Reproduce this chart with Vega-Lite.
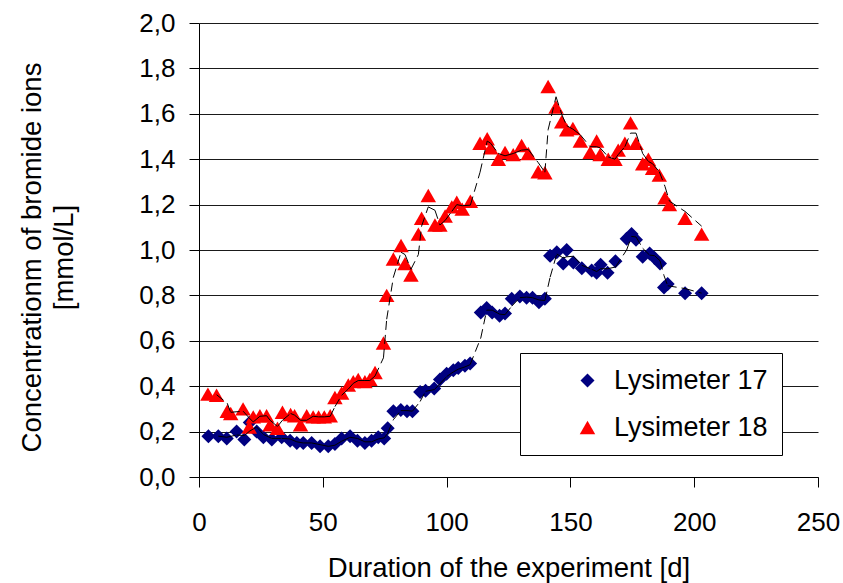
{
  "$schema": "https://vega.github.io/schema/vega-lite/v6.json",
  "width": 619,
  "height": 454,
  "autosize": {"type": "none"},
  "padding": {"left": 199, "top": 23, "right": 25, "bottom": 106},
  "background": "white",
  "config": {
    "view": {"stroke": null},
    "font": "Liberation Sans",
    "legend": {
      "orient": "none",
      "legendX": 321,
      "legendY": 330,
      "padding": 14,
      "strokeColor": "#000000",
      "fillColor": "#ffffff",
      "labelFont": "Liberation Sans",
      "labelFontSize": 27,
      "labelColor": "#000000",
      "symbolSize": 130,
      "symbolOffset": 40,
      "labelOffset": 13,
      "rowPadding": 19,
      "symbolStrokeWidth": 0
    }
  },
  "datasets": {
    "bromide": [
      {"series": "Lysimeter 17", "day": 3.8, "conc": 0.18},
      {"series": "Lysimeter 17", "day": 7.8, "conc": 0.18},
      {"series": "Lysimeter 17", "day": 11.2, "conc": 0.17},
      {"series": "Lysimeter 17", "day": 15.2, "conc": 0.2},
      {"series": "Lysimeter 17", "day": 18.3, "conc": 0.165},
      {"series": "Lysimeter 17", "day": 20.5, "conc": 0.24},
      {"series": "Lysimeter 17", "day": 23.3, "conc": 0.2},
      {"series": "Lysimeter 17", "day": 26, "conc": 0.175},
      {"series": "Lysimeter 17", "day": 29.4, "conc": 0.165},
      {"series": "Lysimeter 17", "day": 33.4, "conc": 0.175},
      {"series": "Lysimeter 17", "day": 36.8, "conc": 0.16},
      {"series": "Lysimeter 17", "day": 39.5, "conc": 0.15},
      {"series": "Lysimeter 17", "day": 42.1, "conc": 0.15},
      {"series": "Lysimeter 17", "day": 45.5, "conc": 0.15},
      {"series": "Lysimeter 17", "day": 48.9, "conc": 0.135},
      {"series": "Lysimeter 17", "day": 52.2, "conc": 0.135},
      {"series": "Lysimeter 17", "day": 54.9, "conc": 0.145},
      {"series": "Lysimeter 17", "day": 57.6, "conc": 0.17},
      {"series": "Lysimeter 17", "day": 61, "conc": 0.18},
      {"series": "Lysimeter 17", "day": 64, "conc": 0.16},
      {"series": "Lysimeter 17", "day": 67, "conc": 0.15},
      {"series": "Lysimeter 17", "day": 69.7, "conc": 0.16},
      {"series": "Lysimeter 17", "day": 72.4, "conc": 0.175},
      {"series": "Lysimeter 17", "day": 74.8, "conc": 0.17},
      {"series": "Lysimeter 17", "day": 76.2, "conc": 0.215},
      {"series": "Lysimeter 17", "day": 78.5, "conc": 0.29},
      {"series": "Lysimeter 17", "day": 81.5, "conc": 0.295},
      {"series": "Lysimeter 17", "day": 84, "conc": 0.29},
      {"series": "Lysimeter 17", "day": 86.2, "conc": 0.29},
      {"series": "Lysimeter 17", "day": 89.3, "conc": 0.375},
      {"series": "Lysimeter 17", "day": 91.5, "conc": 0.38},
      {"series": "Lysimeter 17", "day": 95, "conc": 0.39},
      {"series": "Lysimeter 17", "day": 97.3, "conc": 0.43},
      {"series": "Lysimeter 17", "day": 100, "conc": 0.455},
      {"series": "Lysimeter 17", "day": 102.7, "conc": 0.47},
      {"series": "Lysimeter 17", "day": 104.7, "conc": 0.48},
      {"series": "Lysimeter 17", "day": 107.4, "conc": 0.49},
      {"series": "Lysimeter 17", "day": 109.5, "conc": 0.5},
      {"series": "Lysimeter 17", "day": 113.8, "conc": 0.725},
      {"series": "Lysimeter 17", "day": 116.2, "conc": 0.745},
      {"series": "Lysimeter 17", "day": 118.4, "conc": 0.725},
      {"series": "Lysimeter 17", "day": 121.4, "conc": 0.71},
      {"series": "Lysimeter 17", "day": 123.6, "conc": 0.72},
      {"series": "Lysimeter 17", "day": 126.3, "conc": 0.785},
      {"series": "Lysimeter 17", "day": 129.6, "conc": 0.795},
      {"series": "Lysimeter 17", "day": 132.3, "conc": 0.79},
      {"series": "Lysimeter 17", "day": 134.7, "conc": 0.79},
      {"series": "Lysimeter 17", "day": 137.3, "conc": 0.77},
      {"series": "Lysimeter 17", "day": 139.7, "conc": 0.785},
      {"series": "Lysimeter 17", "day": 141.8, "conc": 0.975},
      {"series": "Lysimeter 17", "day": 144.5, "conc": 0.99},
      {"series": "Lysimeter 17", "day": 147.1, "conc": 0.94},
      {"series": "Lysimeter 17", "day": 148.5, "conc": 1.0},
      {"series": "Lysimeter 17", "day": 151.2, "conc": 0.945},
      {"series": "Lysimeter 17", "day": 154.6, "conc": 0.92},
      {"series": "Lysimeter 17", "day": 158.6, "conc": 0.91},
      {"series": "Lysimeter 17", "day": 160.6, "conc": 0.9},
      {"series": "Lysimeter 17", "day": 162.2, "conc": 0.935},
      {"series": "Lysimeter 17", "day": 165, "conc": 0.9},
      {"series": "Lysimeter 17", "day": 168.2, "conc": 0.95},
      {"series": "Lysimeter 17", "day": 172.7, "conc": 1.05},
      {"series": "Lysimeter 17", "day": 174.7, "conc": 1.07},
      {"series": "Lysimeter 17", "day": 176.5, "conc": 1.045},
      {"series": "Lysimeter 17", "day": 179.2, "conc": 0.97},
      {"series": "Lysimeter 17", "day": 182, "conc": 0.985},
      {"series": "Lysimeter 17", "day": 184, "conc": 0.965},
      {"series": "Lysimeter 17", "day": 186.2, "conc": 0.94},
      {"series": "Lysimeter 17", "day": 187.8, "conc": 0.835},
      {"series": "Lysimeter 17", "day": 189.3, "conc": 0.85},
      {"series": "Lysimeter 17", "day": 196.3, "conc": 0.81},
      {"series": "Lysimeter 17", "day": 203, "conc": 0.81},
      {"series": "Lysimeter 18", "day": 3.6, "conc": 0.365},
      {"series": "Lysimeter 18", "day": 7.1, "conc": 0.36},
      {"series": "Lysimeter 18", "day": 11.4, "conc": 0.29},
      {"series": "Lysimeter 18", "day": 12.8, "conc": 0.28},
      {"series": "Lysimeter 18", "day": 17.8, "conc": 0.3},
      {"series": "Lysimeter 18", "day": 20.3, "conc": 0.22},
      {"series": "Lysimeter 18", "day": 21.9, "conc": 0.265},
      {"series": "Lysimeter 18", "day": 24.6, "conc": 0.27},
      {"series": "Lysimeter 18", "day": 27.3, "conc": 0.27},
      {"series": "Lysimeter 18", "day": 28.7, "conc": 0.23},
      {"series": "Lysimeter 18", "day": 31.7, "conc": 0.215},
      {"series": "Lysimeter 18", "day": 33.7, "conc": 0.285},
      {"series": "Lysimeter 18", "day": 37, "conc": 0.275},
      {"series": "Lysimeter 18", "day": 38.6, "conc": 0.27},
      {"series": "Lysimeter 18", "day": 41, "conc": 0.23},
      {"series": "Lysimeter 18", "day": 43.5, "conc": 0.27},
      {"series": "Lysimeter 18", "day": 46.1, "conc": 0.265},
      {"series": "Lysimeter 18", "day": 48.3, "conc": 0.265},
      {"series": "Lysimeter 18", "day": 50.6, "conc": 0.265},
      {"series": "Lysimeter 18", "day": 53, "conc": 0.27},
      {"series": "Lysimeter 18", "day": 54.9, "conc": 0.35},
      {"series": "Lysimeter 18", "day": 57.6, "conc": 0.37},
      {"series": "Lysimeter 18", "day": 60.3, "conc": 0.405},
      {"series": "Lysimeter 18", "day": 62.3, "conc": 0.42},
      {"series": "Lysimeter 18", "day": 64.3, "conc": 0.43},
      {"series": "Lysimeter 18", "day": 67, "conc": 0.42},
      {"series": "Lysimeter 18", "day": 69, "conc": 0.43},
      {"series": "Lysimeter 18", "day": 71.1, "conc": 0.46},
      {"series": "Lysimeter 18", "day": 74.5, "conc": 0.59},
      {"series": "Lysimeter 18", "day": 75.8, "conc": 0.8},
      {"series": "Lysimeter 18", "day": 78.5, "conc": 0.96},
      {"series": "Lysimeter 18", "day": 81.6, "conc": 1.02},
      {"series": "Lysimeter 18", "day": 83.2, "conc": 0.94},
      {"series": "Lysimeter 18", "day": 85.6, "conc": 0.89},
      {"series": "Lysimeter 18", "day": 88.6, "conc": 1.07},
      {"series": "Lysimeter 18", "day": 89.9, "conc": 1.14},
      {"series": "Lysimeter 18", "day": 92.6, "conc": 1.24},
      {"series": "Lysimeter 18", "day": 95.3, "conc": 1.11},
      {"series": "Lysimeter 18", "day": 97.3, "conc": 1.11},
      {"series": "Lysimeter 18", "day": 99.4, "conc": 1.15},
      {"series": "Lysimeter 18", "day": 102.1, "conc": 1.19},
      {"series": "Lysimeter 18", "day": 104.1, "conc": 1.21},
      {"series": "Lysimeter 18", "day": 106.3, "conc": 1.18},
      {"series": "Lysimeter 18", "day": 109.6, "conc": 1.215},
      {"series": "Lysimeter 18", "day": 113.5, "conc": 1.47},
      {"series": "Lysimeter 18", "day": 116.4, "conc": 1.49},
      {"series": "Lysimeter 18", "day": 117.8, "conc": 1.45},
      {"series": "Lysimeter 18", "day": 120.9, "conc": 1.4},
      {"series": "Lysimeter 18", "day": 123.6, "conc": 1.43},
      {"series": "Lysimeter 18", "day": 126.9, "conc": 1.42},
      {"series": "Lysimeter 18", "day": 130.3, "conc": 1.46},
      {"series": "Lysimeter 18", "day": 133, "conc": 1.425},
      {"series": "Lysimeter 18", "day": 137, "conc": 1.345},
      {"series": "Lysimeter 18", "day": 139.7, "conc": 1.34},
      {"series": "Lysimeter 18", "day": 141, "conc": 1.72},
      {"series": "Lysimeter 18", "day": 144.2, "conc": 1.63},
      {"series": "Lysimeter 18", "day": 146.5, "conc": 1.565},
      {"series": "Lysimeter 18", "day": 148.5, "conc": 1.53},
      {"series": "Lysimeter 18", "day": 151, "conc": 1.535},
      {"series": "Lysimeter 18", "day": 154, "conc": 1.48},
      {"series": "Lysimeter 18", "day": 158, "conc": 1.43},
      {"series": "Lysimeter 18", "day": 160.6, "conc": 1.48},
      {"series": "Lysimeter 18", "day": 162, "conc": 1.42},
      {"series": "Lysimeter 18", "day": 165.3, "conc": 1.4},
      {"series": "Lysimeter 18", "day": 168, "conc": 1.4},
      {"series": "Lysimeter 18", "day": 169.3, "conc": 1.44},
      {"series": "Lysimeter 18", "day": 172, "conc": 1.47},
      {"series": "Lysimeter 18", "day": 174.3, "conc": 1.56},
      {"series": "Lysimeter 18", "day": 176.5, "conc": 1.47},
      {"series": "Lysimeter 18", "day": 179.2, "conc": 1.38},
      {"series": "Lysimeter 18", "day": 181.5, "conc": 1.4},
      {"series": "Lysimeter 18", "day": 183.2, "conc": 1.36},
      {"series": "Lysimeter 18", "day": 185.9, "conc": 1.33},
      {"series": "Lysimeter 18", "day": 188.2, "conc": 1.23},
      {"series": "Lysimeter 18", "day": 190, "conc": 1.2},
      {"series": "Lysimeter 18", "day": 196.3, "conc": 1.14},
      {"series": "Lysimeter 18", "day": 203, "conc": 1.07}
    ]
  },
  "data": {"name": "bromide"},
  "layer": [
    {
      "mark": {"type": "point", "filled": true, "opacity": 1, "strokeWidth": 0},
      "encoding": {
        "x": {
          "field": "day",
          "type": "quantitative",
          "scale": {"domain": [0, 250], "nice": false},
          "axis": {
            "values": [0, 50, 100, 150, 200, 250],
            "grid": false,
            "domainColor": "#000000",
            "tickColor": "#000000",
            "tickSize": 10,
            "labelPadding": 22,
            "labelFontSize": 26,
            "labelColor": "#000000",
            "labelFlush": false,
            "title": "Duration of the experiment [d]",
            "titleFontSize": 27.5,
            "titleFontWeight": "normal",
            "titleColor": "#000000",
            "titleX": 309.5,
            "titleY": 99,
            "titleAlign": "center",
            "titleBaseline": "alphabetic"
          }
        },
        "y": {
          "field": "conc",
          "type": "quantitative",
          "scale": {"domain": [0, 2], "nice": false},
          "axis": {
            "values": [0, 0.2, 0.4, 0.6, 0.8, 1.0, 1.2, 1.4, 1.6, 1.8, 2.0],
            "labelExpr": "replace(format(datum.value, '.1f'), '.', ',')",
            "grid": true,
            "gridColor": "#1a1a1a",
            "gridWidth": 1,
            "domainColor": "#000000",
            "tickColor": "#000000",
            "tickSize": 10,
            "labelPadding": 14,
            "labelFontSize": 26,
            "labelColor": "#000000",
            "labelFlush": false,
            "title": ["Concentrationm of bromide ions", "[mmol/L]"],
            "titleFontSize": 27.5,
            "titleFontWeight": "normal",
            "titleColor": "#000000",
            "titleAngle": -90,
            "titleAlign": "center",
            "titleBaseline": "bottom",
            "titleLineHeight": 32,
            "titleX": -153,
            "titleY": 234
          }
        },
        "color": {
          "field": "series",
          "type": "nominal",
          "scale": {"domain": ["Lysimeter 17", "Lysimeter 18"], "range": ["#000080", "#ff0000"]},
          "legend": {"title": null}
        },
        "shape": {
          "field": "series",
          "type": "nominal",
          "scale": {"domain": ["Lysimeter 17", "Lysimeter 18"], "range": ["diamond", "triangle-up"]},
          "legend": {"title": null}
        },
        "size": {
          "field": "series",
          "type": "nominal",
          "scale": {"domain": ["Lysimeter 17", "Lysimeter 18"], "range": [196, 240]},
          "legend": null
        }
      }
    },
    {
      "transform": [
        {
          "window": [
            {"op": "mean", "field": "conc", "as": "avg"},
            {"op": "row_number", "as": "idx"}
          ],
          "frame": [-1, 0],
          "groupby": ["series"],
          "sort": [{"field": "day"}]
        },
        {
          "window": [
            {"op": "lag", "field": "day", "as": "prevDay"},
            {"op": "lag", "field": "avg", "as": "prevAvg"}
          ],
          "groupby": ["series"],
          "sort": [{"field": "day"}]
        },
        {"filter": "datum.idx >= 3"}
      ],
      "mark": {"type": "rule", "color": "#000000", "strokeWidth": 1, "strokeDash": [9, 5]},
      "encoding": {
        "x": {"field": "prevDay", "type": "quantitative"},
        "y": {"field": "prevAvg", "type": "quantitative"},
        "x2": {"field": "day"},
        "y2": {"field": "avg"}
      }
    }
  ]
}
